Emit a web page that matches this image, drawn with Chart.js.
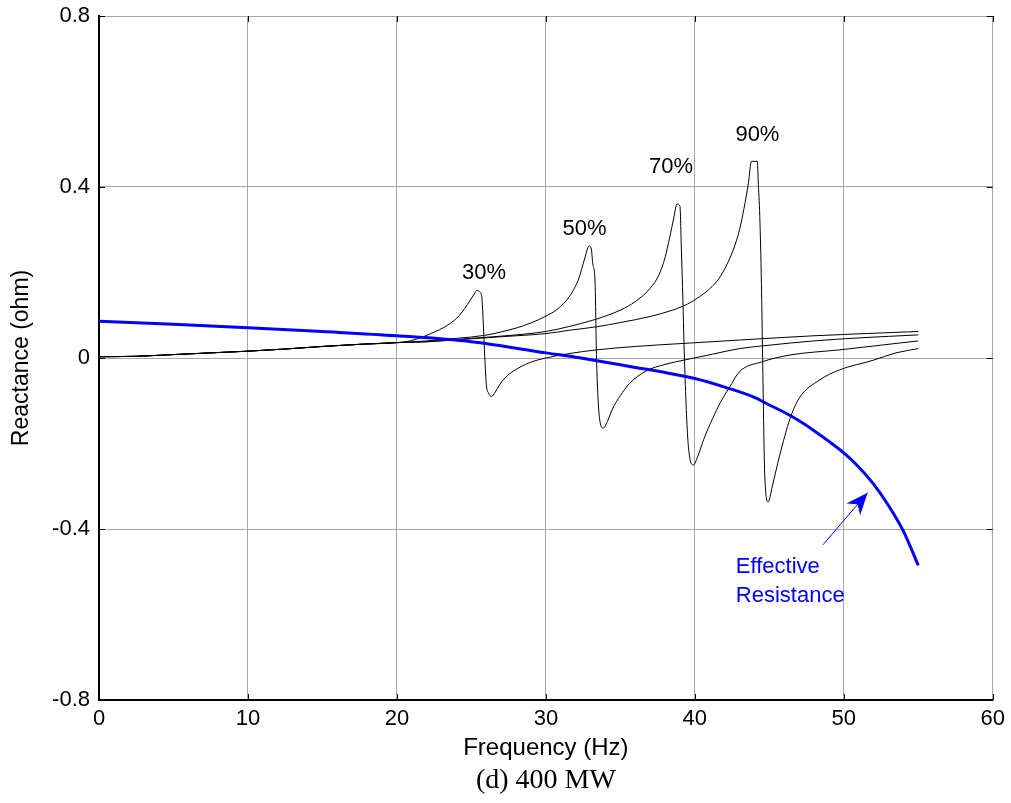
<!DOCTYPE html>
<html lang="en">
<head>
    <meta charset="UTF-8">
    <title>Reactance vs Frequency (400 MW)</title>
    <script src="https://cdn.jsdelivr.net/npm/chart.js"></script>
    <style>
        body { margin: 0; background: #fff; }
        #wrap { width: 1011px; height: 803px; }
    </style>
</head>
<body>
    <div id="wrap"><canvas id="reactanceCanvas" width="1011" height="803"></canvas></div>

    <script>
        // axis ticks
        const xTicks = [0, 10, 20, 30, 40, 50, 60];
        const yTicks = [-0.8, -0.4, 0, 0.4, 0.8];

        // effective resistance (blue)
        const freqR = [0, 5, 10, 15, 20, 25, 30, 32, 34, 36, 38, 40, 42, 44, 45, 46, 47, 48, 49, 50, 51, 52, 53, 54, 55];
        const valR  = [0.086, 0.079, 0.071, 0.062, 0.052, 0.038, 0.012, 0.002, -0.01, -0.022, -0.034, -0.048, -0.068, -0.092, -0.11, -0.127, -0.147, -0.17, -0.195, -0.222, -0.255, -0.295, -0.345, -0.405, -0.485];

        // 30% compensation
        const freq30 = [0, 2.5, 5, 7.5, 10, 12.5, 15, 17.5, 20, 21, 22.2, 23.5, 24.2, 24.9, 25.2, 25.35, 25.55, 25.7, 25.8, 25.9, 26.0, 26.15, 26.35, 26.6, 26.9, 27.3, 27.8, 28.9, 30, 31.5, 33.4, 36, 39.2, 43, 48, 55];
        const val30  = [0.003, 0.004, 0.008, 0.012, 0.016, 0.021, 0.027, 0.032, 0.036, 0.041, 0.056, 0.079, 0.1, 0.134, 0.15, 0.158, 0.155, 0.142, 0.08, 0.0, -0.062, -0.082, -0.09, -0.08, -0.062, -0.045, -0.031, -0.011, 0.0, 0.01, 0.019, 0.027, 0.034, 0.042, 0.052, 0.062];

        // 50% compensation
        const freq50 = [0, 2.5, 5, 7.5, 10, 12.5, 15, 17.5, 20, 22, 24, 25.9, 27, 28, 29, 30, 30.8, 31.6, 32.2, 32.6, 32.9, 33.05, 33.15, 33.3, 33.4, 33.6, 33.85, 34.0, 34.5, 35.0, 35.6, 36.75, 38, 39.4, 41.2, 43, 45, 48, 51, 55];
        const val50  = [0.003, 0.004, 0.008, 0.012, 0.016, 0.021, 0.027, 0.032, 0.036, 0.04, 0.046, 0.053, 0.061, 0.07, 0.082, 0.098, 0.115, 0.145, 0.185, 0.232, 0.262, 0.255, 0.22, 0.178, 0.0, -0.141, -0.164, -0.158, -0.117, -0.088, -0.06, -0.03, -0.015, -0.004, 0.009, 0.022, 0.03, 0.04, 0.047, 0.054];

        // 70% compensation
        const freq70 = [0, 2.5, 5, 7.5, 10, 12.5, 15, 17.5, 20, 22, 25, 28, 30, 31.6, 33, 34, 35, 36, 37, 37.6, 38, 38.3, 38.6, 38.8, 39.0, 39.1, 39.2, 39.3, 39.55, 39.9, 40.2, 40.6, 41.2, 41.7, 42.3, 43, 44.5, 46.4, 49.7, 52, 55];
        const val70  = [0.003, 0.004, 0.008, 0.012, 0.016, 0.021, 0.027, 0.032, 0.036, 0.038, 0.046, 0.054, 0.062, 0.074, 0.087, 0.098, 0.112, 0.132, 0.163, 0.195, 0.235, 0.28, 0.33, 0.36, 0.355, 0.25, 0.134, 0.0, -0.2, -0.25, -0.23, -0.19, -0.141, -0.105, -0.07, -0.032, -0.009, 0.007, 0.019, 0.028, 0.04];

        // 90% compensation
        const freq90 = [0, 2.5, 5, 7.5, 10, 12.5, 15, 17.5, 20, 22, 25, 28, 30, 31.6, 33.4, 35, 37, 38.5, 39.5, 40.3, 41, 41.6, 42.1, 42.6, 43.0, 43.3, 43.6, 43.8, 44.2, 44.25, 44.36, 44.47, 44.55, 44.7, 44.92, 45.2, 45.7, 46.4, 47.0, 48.4, 49.7, 52.0, 53.5, 55];
        const val90  = [0.003, 0.004, 0.008, 0.012, 0.016, 0.021, 0.027, 0.032, 0.036, 0.038, 0.045, 0.052, 0.057, 0.065, 0.073, 0.083, 0.097, 0.112, 0.126, 0.143, 0.162, 0.185, 0.215, 0.255, 0.3, 0.35, 0.41, 0.46, 0.46, 0.417, 0.331, 0.174, 0.0, -0.28, -0.337, -0.3, -0.227, -0.141, -0.094, -0.051, -0.028, -0.005, 0.012, 0.022];

        // annotation texts and their anchor points (data units)
        const pctLabels = ['30%', '50%', '70%', '90%'];
        const pctLabelX = [25.85, 32.6, 38.4, 44.2];
        const pctLabelY = [0.199, 0.303, 0.446, 0.522];
        const noteLines = ['Effective', 'Resistance'];
        const noteX = 42.75;
        const noteY = [-0.488, -0.557];
        const arrowFrom = [48.6, -0.437];
        const arrowTo = [51.6, -0.315];

        const FONT = "'Liberation Sans', Arial, sans-serif";

        function toPoints(xs, ys) {
            return xs.map((x, i) => ({x: x, y: ys[i]}));
        }

        function lineSet(label, xs, ys, color, width) {
            return {
                label: label,
                data: toPoints(xs, ys),
                borderColor: color,
                borderWidth: width,
                pointRadius: 0,
                fill: false,
                cubicInterpolationMode: 'monotone'
            };
        }

        // inward tick marks on all four sides, plus text annotations and arrow
        const decorations = {
            id: 'decorations',
            afterDatasetsDraw(chart) {
                const ctx = chart.ctx;
                const xs = chart.scales.x, ys = chart.scales.y;
                const area = chart.chartArea;
                ctx.save();
                ctx.strokeStyle = '#000';
                ctx.lineWidth = 1;
                ctx.beginPath();
                xTicks.forEach(v => {
                    const px = Math.round(xs.getPixelForValue(v)) + 0.5;
                    ctx.moveTo(px, area.bottom); ctx.lineTo(px, area.bottom - 6);
                    ctx.moveTo(px, area.top); ctx.lineTo(px, area.top + 6);
                });
                yTicks.forEach(v => {
                    const py = Math.round(ys.getPixelForValue(v)) + 0.5;
                    ctx.moveTo(area.left, py); ctx.lineTo(area.left + 6, py);
                    ctx.moveTo(area.right, py); ctx.lineTo(area.right - 6, py);
                });
                ctx.stroke();

                ctx.font = '22px ' + FONT;
                ctx.textAlign = 'center';
                ctx.textBaseline = 'middle';
                ctx.fillStyle = '#000';
                pctLabels.forEach((t, i) => {
                    ctx.fillText(t, xs.getPixelForValue(pctLabelX[i]), ys.getPixelForValue(pctLabelY[i]));
                });

                ctx.fillStyle = '#0000ff';
                ctx.textAlign = 'left';
                noteLines.forEach((t, i) => {
                    ctx.fillText(t, xs.getPixelForValue(noteX), ys.getPixelForValue(noteY[i]));
                });

                // arrow
                const x0 = xs.getPixelForValue(arrowFrom[0]), y0 = ys.getPixelForValue(arrowFrom[1]);
                const x1 = xs.getPixelForValue(arrowTo[0]), y1 = ys.getPixelForValue(arrowTo[1]);
                const ang = Math.atan2(y1 - y0, x1 - x0);
                ctx.strokeStyle = '#0000ff';
                ctx.lineWidth = 1;
                ctx.beginPath();
                ctx.moveTo(x0, y0); ctx.lineTo(x1, y1);
                ctx.stroke();
                const len = 22, half = 9;
                const bx = x1 - len * Math.cos(ang), by = y1 - len * Math.sin(ang);
                ctx.beginPath();
                ctx.moveTo(x1, y1);
                ctx.lineTo(bx + half * Math.sin(ang), by - half * Math.cos(ang));
                ctx.lineTo(x1 - 0.7 * len * Math.cos(ang), y1 - 0.7 * len * Math.sin(ang));
                ctx.lineTo(bx - half * Math.sin(ang), by + half * Math.cos(ang));
                ctx.closePath();
                ctx.fill();
                ctx.restore();
            }
        };

        const ctx = document.getElementById('reactanceCanvas').getContext('2d');
        const chart = new Chart(ctx, {
            type: 'line',
            data: {
                datasets: [
                    lineSet('Effective Resistance', freqR, valR, '#0000ff', 3),
                    lineSet('30%', freq30, val30, '#000', 1),
                    lineSet('50%', freq50, val50, '#000', 1),
                    lineSet('70%', freq70, val70, '#000', 1),
                    lineSet('90%', freq90, val90, '#000', 1)
                ]
            },
            options: {
                responsive: false,
                animation: false,
                layout: { padding: { left: 0, right: 18, top: 16, bottom: 6 } },
                plugins: {
                    legend: { display: false },
                    tooltip: { enabled: false },
                    title: {
                        display: true,
                        position: 'bottom',
                        fullSize: false,
                        text: '(d) 400 MW',
                        color: '#000',
                        font: { family: "'Liberation Serif', 'Times New Roman', serif", size: 28, weight: 'normal' },
                        padding: 0
                    }
                },
                scales: {
                    x: {
                        type: 'linear',
                        min: 0,
                        max: 60,
                        afterBuildTicks: scale => { scale.ticks = xTicks.map(v => ({value: v})); },
                        afterFit: scale => { scale.height = 63.4; },
                        grid: { color: '#a6a6a6', lineWidth: 1, drawTicks: false },
                        border: { color: '#000', width: 2 },
                        ticks: { color: '#000', font: { family: FONT, size: 22 }, padding: 6, maxRotation: 0 },
                        title: { display: true, text: 'Frequency (Hz)', color: '#000', font: { family: FONT, size: 24 }, padding: { top: 0, bottom: 1 } }
                    },
                    y: {
                        min: -0.8,
                        max: 0.8,
                        afterBuildTicks: scale => { scale.ticks = yTicks.map(v => ({value: v})); },
                        afterFit: scale => { scale.width = 99; scale.paddingTop = 0; scale.paddingBottom = 0; },
                        grid: { color: '#a6a6a6', lineWidth: 1, drawTicks: false },
                        border: { color: '#000', width: 2 },
                        ticks: { color: '#000', font: { family: FONT, size: 22 }, padding: 9, callback: v => String(v) },
                        title: { display: true, text: 'Reactance (ohm)', color: '#000', font: { family: FONT, size: 23 }, padding: { top: 8, bottom: 0 } }
                    }
                }
            },
            plugins: [decorations]
        });
    </script>
</body>
</html>
